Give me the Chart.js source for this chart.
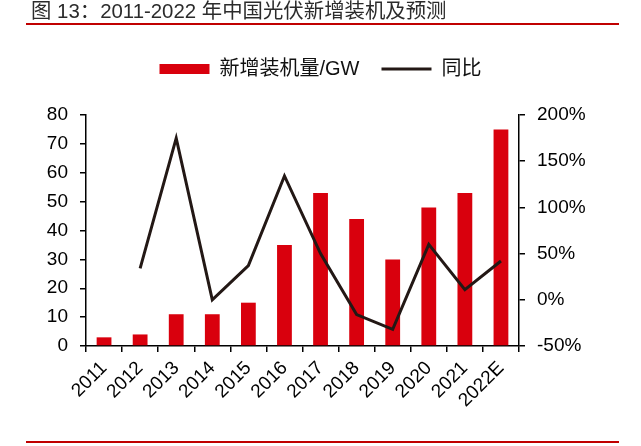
<!DOCTYPE html>
<html>
<head>
<meta charset="utf-8">
<script src="https://cdn.jsdelivr.net/npm/chart.js@4.4.1/dist/chart.umd.min.js"></script>
<style>
  body { margin: 0; background: #fff; }
  #wrap { position: relative; width: 641px; height: 446px; overflow: hidden; }
  #chart { position: absolute; left: 0; top: 0; }
  .titulo { position: absolute; left: 31px; top: 0; font: 20.4px 'Liberation Sans', 'Noto Sans CJK SC', sans-serif; line-height: 22px; color: #2b2b2b; white-space: nowrap; }
  .regla { position: absolute; left: 26px; width: 593px; height: 2px; background: #c00000; }
</style>
</head>
<body>
<div id="wrap">
  <canvas id="chart" width="641" height="446"></canvas>
  <div class="titulo">图 13：2011-2022 年中国光伏新增装机及预测</div>
  <div class="regla" style="top:23px"></div>
  <div class="regla" style="top:441px"></div>
</div>
<script>
const anios = ['2011', '2012', '2013', '2014', '2015', '2016', '2017', '2018', '2019', '2020', '2021', '2022E'];
const nuevaCapacidad = [3, 4, 11, 11, 15, 35, 53, 44, 30, 48, 53, 75];
const crecimiento = [null, 34, 175, 0, 37, 134, 50, -16, -32, 60, 11, 42];
const ticksIzq = { min: 0, max: 80, paso: 10 };
const ticksDer = { min: -50, max: 200, paso: 50 };

Chart.defaults.font.family = "'Liberation Sans', 'Noto Sans CJK SC', sans-serif";
Chart.defaults.color = '#000';

const context = document.getElementById('chart').getContext('2d');

const ejeNegro = {
    grid: { display: true, drawOnChartArea: false, drawTicks: true, tickLength: 6, color: '#000', lineWidth: 1.5 },
    border: { display: true, color: '#000', width: 1.5 }
};

const grafica = new Chart(context, {
    type: 'bar',
    data: {
        labels: anios,
        datasets: [
            {
                label: '新增装机量/GW',
                data: nuevaCapacidad,
                backgroundColor: '#d9000d',
                borderWidth: 0,
                barPercentage: 0.41,
                categoryPercentage: 1,
                pointStyle: 'rect',
                yAxisID: 'y',
                order: 2
            },
            {
                type: 'line',
                label: '同比',
                data: crecimiento,
                borderColor: '#231815',
                backgroundColor: '#231815',
                borderWidth: 3,
                pointRadius: 0,
                pointStyle: 'line',
                tension: 0,
                yAxisID: 'y1',
                order: 1
            }
        ]
    },
    options: {
        responsive: false,
        animation: false,
        layout: { padding: { top: 37, left: 0, right: 0, bottom: 0 } },
        plugins: {
            legend: {
                position: 'top',
                labels: {
                    usePointStyle: true,
                    pointStyleWidth: 50,
                    boxHeight: 10,
                    padding: 22,
                    color: '#111',
                    font: { size: 20 },
                    sort: (a, b) => a.datasetIndex - b.datasetIndex
                }
            },
            // espacio vacio entre leyenda y grafica
            subtitle: {
                display: true,
                text: ' ',
                weight: 500,
                padding: 0,
                font: { size: 26, lineHeight: 1 }
            },
            tooltip: { enabled: false }
        },
        scales: {
            x: {
                ...ejeNegro,
                ticks: { autoSkip: false, maxRotation: 45, minRotation: 45, padding: 5, font: { size: 19 } },
                afterFit: s => { s.height = 100; }
            },
            y: {
                ...ejeNegro,
                position: 'left',
                min: ticksIzq.min,
                max: ticksIzq.max,
                ticks: { stepSize: ticksIzq.paso, padding: 12, font: { size: 19 } },
                afterFit: s => { s.width = 86; }
            },
            y1: {
                ...ejeNegro,
                position: 'right',
                min: ticksDer.min,
                max: ticksDer.max,
                ticks: { stepSize: ticksDer.paso, padding: 12, font: { size: 19 }, callback: v => v + '%' },
                afterFit: s => { s.width = 122; }
            }
        }
    }
});
</script>
</body>
</html>
